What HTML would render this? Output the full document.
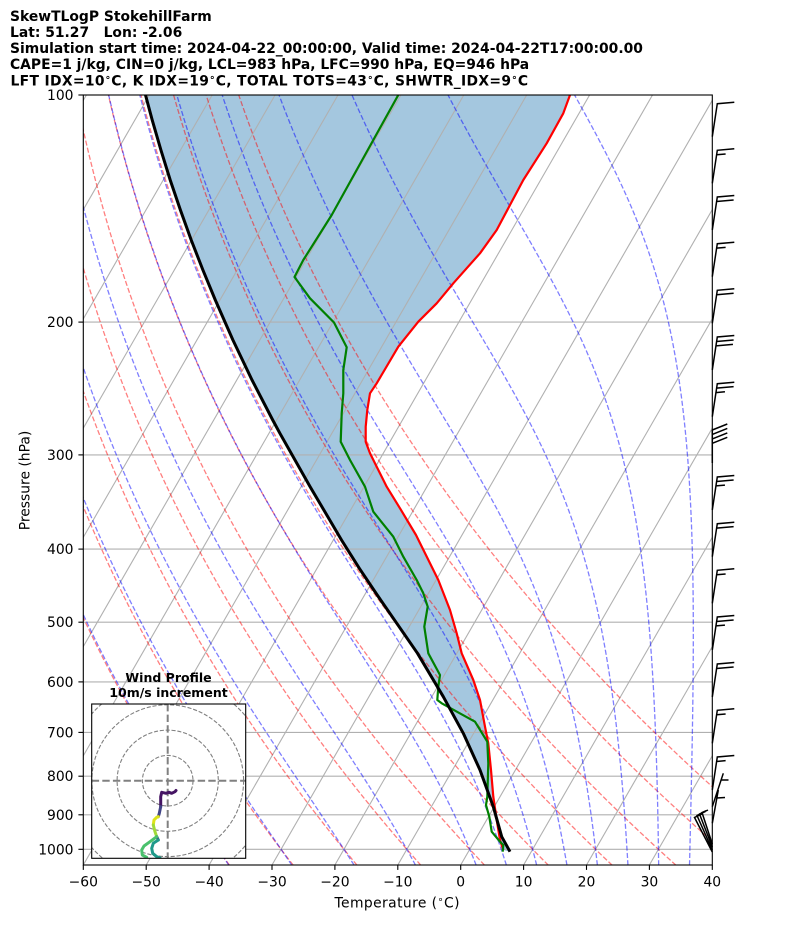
<!DOCTYPE html>
<html><head><meta charset="utf-8">
<style>
html,body{margin:0;padding:0;background:#fff;}
svg{display:block;}
text{font-family:"DejaVu Sans","Liberation Sans",sans-serif;fill:#000;}
.b{font-weight:bold;}
</style></head>
<body>
<svg id="s" width="794" height="937" viewBox="0 0 794 937" xmlns="http://www.w3.org/2000/svg">
<defs>
<clipPath id="c"><rect x="83.3" y="95" width="629" height="770"/></clipPath>
<clipPath id="hc"><rect x="91.7" y="704" width="154" height="154.3"/></clipPath>
</defs>
<rect width="794" height="937" fill="#fff"/>

<g clip-path="url(#c)">
  <!-- CIN shading -->
  <polygon fill="#a4c7df" points="570,95 563.3,113.3 546.7,143.3 523.3,180 510,205 496.7,230 480,253.3 453.3,283.3 436.7,303.3 418.3,321.7 398.3,346.7 376.7,383.3 370,393.3 367.3,410 365.7,426.7 365.7,441.7 370,453.3 376.7,466.7 386.7,486.7 400,508.3 416,535 438.3,580 450,610 456.7,633.3 461.7,653.3 473.3,680 480,700 485,726.7 488.3,743.3 491,770 493.3,796.7 496.7,820 500,840 503.3,850 510,851.7 501.7,836.7 493.3,806.7 480,770 463.3,733.3 443.3,696.7 417.5,653.3 396,622.2 377.2,595 359.3,568.3 341.5,540 310.1,486.7 279.9,433.3 272.7,420 252,380 232.9,340 215.3,300 202.9,270 191.2,240 180.4,210 170.2,180 160.9,150 152.2,120 145.5,95"/>

  <!-- grid -->
  <g stroke="#b0b0b0" stroke-width="1.1" fill="none">
    <line x1="83.3" y1="95" x2="712.3" y2="95"/>
    <line x1="83.3" y1="322.1" x2="712.3" y2="322.1"/>
    <line x1="83.3" y1="454.9" x2="712.3" y2="454.9"/>
    <line x1="83.3" y1="549.1" x2="712.3" y2="549.1"/>
    <line x1="83.3" y1="622.2" x2="712.3" y2="622.2"/>
    <line x1="83.3" y1="681.9" x2="712.3" y2="681.9"/>
    <line x1="83.3" y1="732.4" x2="712.3" y2="732.4"/>
    <line x1="83.3" y1="776.2" x2="712.3" y2="776.2"/>
    <line x1="83.3" y1="814.8" x2="712.3" y2="814.8"/>
    <line x1="83.3" y1="849.3" x2="712.3" y2="849.3"/>
    <line x1="-357" y1="865" x2="86.4" y2="95"/>
    <line x1="-294.1" y1="865" x2="149.3" y2="95"/>
    <line x1="-231.2" y1="865" x2="212.2" y2="95"/>
    <line x1="-168.3" y1="865" x2="275.1" y2="95"/>
    <line x1="-105.4" y1="865" x2="338" y2="95"/>
    <line x1="-42.5" y1="865" x2="400.9" y2="95"/>
    <line x1="20.4" y1="865" x2="463.8" y2="95"/>
    <line x1="83.3" y1="865" x2="526.7" y2="95"/>
    <line x1="146.2" y1="865" x2="589.6" y2="95"/>
    <line x1="209.1" y1="865" x2="652.5" y2="95"/>
    <line x1="272" y1="865" x2="715.4" y2="95"/>
    <line x1="334.9" y1="865" x2="778.3" y2="95"/>
    <line x1="397.8" y1="865" x2="841.2" y2="95"/>
    <line x1="460.7" y1="865" x2="904.1" y2="95"/>
    <line x1="523.6" y1="865" x2="967" y2="95"/>
    <line x1="586.5" y1="865" x2="1029.9" y2="95"/>
    <line x1="649.4" y1="865" x2="1092.8" y2="95"/>
    <line x1="712.3" y1="865" x2="1155.7" y2="95"/>
  </g>

  <!-- adiabats (generated) -->
  <g id="adi" fill="none" stroke-width="1.3" stroke-opacity="0.5" stroke-dasharray="5.1 2.2"></g>

  <!-- temperature -->
  <polyline fill="none" stroke="#ff0000" stroke-width="2.2" stroke-linejoin="round" points="570,95 563.3,113.3 546.7,143.3 523.3,180 510,205 496.7,230 480,253.3 453.3,283.3 436.7,303.3 418.3,321.7 398.3,346.7 376.7,383.3 370,393.3 367.3,410 365.7,426.7 365.7,441.7 370,453.3 376.7,466.7 386.7,486.7 400,508.3 416,535 438.3,580 450,610 456.7,633.3 461.7,653.3 473.3,680 480,700 485,726.7 488.3,743.3 491,770 493.3,796.7 496.7,820 500,840 503.3,850"/>
  <!-- dewpoint -->
  <polyline fill="none" stroke="#008000" stroke-width="2.2" stroke-linejoin="round" points="398.3,95 373.3,140 331.7,215 303.3,260 294.5,277 310,298.3 334,322.5 346.7,347.3 343.3,370 343.3,393.3 341.7,413.3 340.7,441.7 350,460 365,486.7 373.3,511.7 393.3,536.7 403.3,556.7 416.7,580 423.3,593.3 427.7,606.7 424.3,626.7 428.3,653.3 440,675 438.3,686.7 437.3,700 441.7,703.3 475,721.7 487.3,741.7 488.3,763.3 487.3,796.7 486,805 489.3,816.7 491.7,831.7 500,841.7 503.3,845 502.7,851.7"/>
  <!-- parcel -->
  <polyline fill="none" stroke="#000" stroke-width="3" stroke-linejoin="round" points="145.5,95 152.2,120 160.9,150 170.2,180 180.4,210 191.2,240 202.9,270 215.3,300 232.9,340 252,380 272.7,420 279.9,433.3 310.1,486.7 341.5,540 359.3,568.3 377.2,595 396,622.2 417.5,653.3 443.3,696.7 463.3,733.3 480,770 493.3,806.7 501.7,836.7 510,851.7"/>
</g>

<!-- axes frame -->
<rect x="83.3" y="95" width="629" height="770" fill="none" stroke="#000" stroke-width="1.1"/>

<!-- ticks -->
<g stroke="#000" stroke-width="1.1">
  <line x1="78.4" y1="95" x2="83.3" y2="95"/>
  <line x1="78.4" y1="322.1" x2="83.3" y2="322.1"/>
  <line x1="78.4" y1="454.9" x2="83.3" y2="454.9"/>
  <line x1="78.4" y1="549.1" x2="83.3" y2="549.1"/>
  <line x1="78.4" y1="622.2" x2="83.3" y2="622.2"/>
  <line x1="78.4" y1="681.9" x2="83.3" y2="681.9"/>
  <line x1="78.4" y1="732.4" x2="83.3" y2="732.4"/>
  <line x1="78.4" y1="776.2" x2="83.3" y2="776.2"/>
  <line x1="78.4" y1="814.8" x2="83.3" y2="814.8"/>
  <line x1="78.4" y1="849.3" x2="83.3" y2="849.3"/>
  <line x1="83.3" y1="865" x2="83.3" y2="869.9"/>
  <line x1="146.2" y1="865" x2="146.2" y2="869.9"/>
  <line x1="209.1" y1="865" x2="209.1" y2="869.9"/>
  <line x1="272" y1="865" x2="272" y2="869.9"/>
  <line x1="334.9" y1="865" x2="334.9" y2="869.9"/>
  <line x1="397.8" y1="865" x2="397.8" y2="869.9"/>
  <line x1="460.7" y1="865" x2="460.7" y2="869.9"/>
  <line x1="523.6" y1="865" x2="523.6" y2="869.9"/>
  <line x1="586.5" y1="865" x2="586.5" y2="869.9"/>
  <line x1="649.4" y1="865" x2="649.4" y2="869.9"/>
  <line x1="712.3" y1="865" x2="712.3" y2="869.9"/>
</g>

<!-- y tick labels -->
<g font-size="13.89" text-anchor="end">
  <text x="73.5" y="100">100</text>
  <text x="73.5" y="327.1">200</text>
  <text x="73.5" y="459.9">300</text>
  <text x="73.5" y="554.1">400</text>
  <text x="73.5" y="627.2">500</text>
  <text x="73.5" y="686.9">600</text>
  <text x="73.5" y="737.4">700</text>
  <text x="73.5" y="781.2">800</text>
  <text x="73.5" y="819.8">900</text>
  <text x="73.5" y="854.3">1000</text>
</g>
<!-- x tick labels -->
<g font-size="13.89" text-anchor="middle">
  <text x="83.3" y="886.7">−60</text>
  <text x="146.2" y="886.7">−50</text>
  <text x="209.1" y="886.7">−40</text>
  <text x="272" y="886.7">−30</text>
  <text x="334.9" y="886.7">−20</text>
  <text x="397.8" y="886.7">−10</text>
  <text x="460.7" y="886.7">0</text>
  <text x="523.6" y="886.7">10</text>
  <text x="586.5" y="886.7">20</text>
  <text x="649.4" y="886.7">30</text>
  <text x="712.3" y="886.7">40</text>
</g>

<!-- axis labels -->
<text x="334.5" y="907.4" font-size="13.89" textLength="125" lengthAdjust="spacing">Temperature (<tspan dy="-5" font-size="9.7">∘</tspan><tspan dy="5">C)</tspan></text>
<text transform="translate(29.5,480.5) rotate(-90)" font-size="13.89" text-anchor="middle">Pressure (hPa)</text>

<!-- title -->
<g class="b" font-size="13.89" style="white-space:pre">
  <text class="b" x="10" y="21">SkewTLogP StokehillFarm</text>
  <text class="b" x="10" y="37" xml:space="preserve">Lat: 51.27   Lon: -2.06</text>
  <text class="b" x="10" y="53">Simulation start time: 2024-04-22_00:00:00, Valid time: 2024-04-22T17:00:00.00</text>
  <text class="b" x="10" y="69.2">CAPE=1 j/kg, CIN=0 j/kg, LCL=983 hPa, LFC=990 hPa, EQ=946 hPa</text>
  <text class="b" x="10.5" y="85.3" textLength="517.5" lengthAdjust="spacing">LFT IDX=10<tspan dy="-5" font-size="9.7">∘</tspan><tspan dy="5">C, K IDX=19</tspan><tspan dy="-5" font-size="9.7">∘</tspan><tspan dy="5">C, TOTAL TOTS=43</tspan><tspan dy="-5" font-size="9.7">∘</tspan><tspan dy="5">C, SHWTR_IDX=9</tspan><tspan dy="-5" font-size="9.7">∘</tspan><tspan dy="5">C</tspan></text>
</g>

<!-- wind barbs -->
<path fill="none" stroke="#000" stroke-width="1.5" stroke-linejoin="miter" d="
M712.3 136.7L717.3 103.7L734.3 102.2
M712.3 183.3L717.3 150.3L734.3 148.8 M716.62 154.75L725.62 153.95
M712.3 230L717.3 197L734.3 195.5 M716.62 201.45L733.62 199.95
M712.3 276.7L717.3 243.7L734.3 242.2 M716.62 248.15L725.62 247.35
M712.3 323.3L717.3 290.3L734.3 288.8 M716.62 294.75L733.62 293.25
M712.3 370L717.3 337L734.3 335.5 M716.62 341.45L733.62 339.95 M715.94 345.9L732.94 344.4
M712.3 416.7L717.3 383.7L734.3 382.2 M716.62 388.15L733.62 386.65 M715.94 392.6L724.94 391.8
M712.3 463L712.3 430 M712.3 430L727.3 424 M712.3 434.45L727.3 428.45 M712.3 438.9L727.3 432.9 M712.3 443.35L727.3 437.35
M712.3 510L717.3 477L734.3 475.5 M716.62 481.45L733.62 479.95 M715.94 485.9L724.94 485.1
M712.3 556.7L717.3 523.7L734.3 522.2 M716.62 528.15L733.62 526.65
M712.3 603.3L717.3 570.3L734.3 568.8 M716.62 574.75L725.62 573.95
M712.3 650L717.3 617L734.3 615.5 M716.62 621.45L733.62 619.95 M715.94 625.9L724.94 625.1
M712.3 697L717.3 664L734.3 662.5 M716.62 668.45L733.62 666.95
M712.3 743.3L717.3 710.3L734.3 708.8 M716.62 714.75L725.62 713.95
M712.3 790L717.3 757L734.3 755.5 M716.62 761.45L725.62 760.65
M712.3 806.7L723.3 773.3 M721 780L728.5 780
M712.3 823.3L718.3 790 M716.7 798L725 797.5
M712.3 852L694.5 817.5L703 813.5
M712.3 850L697 815.5L705.5 811.5
M712.3 847L699.5 814L708 810
M712.3 844L702 812.5L706.5 810.5"/>

<!-- hodograph inset -->
<text class="b" x="168.5" y="681.8" font-size="12.5" text-anchor="middle">Wind Profile</text>
<text class="b" x="168.5" y="697.2" font-size="12.5" text-anchor="middle">10m/s increment</text>
<rect x="91.7" y="704" width="154" height="154.3" fill="#fff"/>
<g clip-path="url(#hc)" fill="none">
  <g stroke="#808080" stroke-width="1.1" stroke-dasharray="4.1 1.8">
    <circle cx="167.7" cy="780.7" r="25.3"/>
    <circle cx="167.7" cy="780.7" r="50.6"/>
    <circle cx="167.7" cy="780.7" r="75.9"/>
    <circle cx="167.7" cy="780.7" r="101.2"/>
  </g>
  <g stroke="#808080" stroke-width="2" stroke-dasharray="7.4 3.2">
    <line x1="91.7" y1="780.7" x2="245.7" y2="780.7"/>
    <line x1="167.7" y1="704" x2="167.7" y2="858.3"/>
  </g>
  <g stroke-width="3" stroke-linejoin="round" stroke-linecap="round">
    <polyline stroke="#451463" points="176,790.5 175,791.7 171.7,793.3 169,792.3 166,793.3 161.7,792.3 160.7,796.7 160.7,806.7"/>
    <polyline stroke="#414487" points="160.7,806.7 159.3,813.3 158.3,816.7"/>
    <polyline stroke="#dde318" points="158.3,816.7 156.7,817.3 154,820 153.3,825"/>
    <polyline stroke="#a0da39" points="153.3,825 155,831.7 156.7,836.7"/>
    <polyline stroke="#3b528b" points="156.7,836.7 158.3,840"/>
    <polyline stroke="#4ac16d" points="156.7,836.7 150,841.7 144,846 141.7,850 142.3,855 146.7,857.3"/>
    <polyline stroke="#1f9a8a" points="158.3,840 153.3,843.3 151.7,848.3 152.7,853.3 156.7,856.7 160,857.8"/>
  </g>
</g>
<rect x="91.7" y="704" width="154" height="154.3" fill="none" stroke="#000" stroke-width="1.1"/>
</svg>

<script>
(function(){
var NS="http://www.w3.org/2000/svg";
var g=document.getElementById('adi');
var X0=460.7,SX=6.29,YB=865,YT=95,DEC=754.3,S=0.5758;
function yP(p){return YT+DEC*Math.log(p/100)/Math.LN10;}
function xTP(t,p){return X0+SX*t+S*(YB-yP(p));}
var Rd=287.04749,Cp=1004.6662,Lv=2.50084e6,eps=0.6219569,kap=Rd/Cp;
function es(T){var tc=T-273.15;return 6.112*Math.exp(17.67*tc/(tc+243.5));}
function fr(lnp,T){var p=Math.exp(lnp);var e=es(T);var r=eps*e/(p-e);return (Rd*T+Lv*r)/(Cp+Lv*Lv*r*eps/(Rd*T*T));}
function integ(T0,p0,p1,n){var lnp=Math.log(p0),T=T0,h=(Math.log(p1)-lnp)/n,out=[[p0,T]];
 for(var i=0;i<n;i++){var k1=fr(lnp,T),k2=fr(lnp+h/2,T+h/2*k1),k3=fr(lnp+h/2,T+h/2*k2),k4=fr(lnp+h,T+h*k3);
 T+=h/6*(k1+2*k2+2*k3+k4);lnp+=h;out.push([Math.exp(lnp),T]);}return out;}
function path(pts,color){var d='';for(var i=0;i<pts.length;i++){var x=xTP(pts[i][1]-273.15,pts[i][0]),y=yP(pts[i][0]);
 d+=(i?'L':'M')+x.toFixed(2)+' '+y.toFixed(2);}
 var el=document.createElementNS(NS,'path');el.setAttribute('d',d);el.setAttribute('stroke',color);g.appendChild(el);}
var t,i;
for(t=-40;t<=50;t+=10){var pts=[];for(i=0;i<=160;i++){var p=1050*Math.pow(100/1050,i/160);pts.push([p,(t+273.15)*Math.pow(p/1000,kap)]);}path(pts,'#ff0000');}
var mt=[-40,-30,-20,-10,0,5,10,15,20,25,30,35,40,45,50];
for(var j=0;j<mt.length;j++){var T0=mt[j]+273.15;var up=integ(T0,1000,100,300);var dn=integ(T0,1000,1050,10);
 var pts2=dn.reverse().concat(up.slice(1));path(pts2,'#0000ff');}
})();
</script>
</body></html>
